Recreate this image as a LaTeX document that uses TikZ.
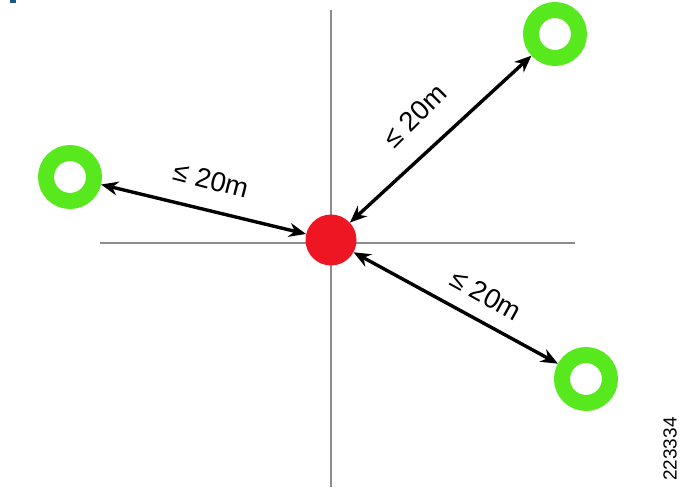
\documentclass[tikz,border=0pt]{standalone}
\usepackage{fontspec}
\setmainfont{Liberation Sans}
\usetikzlibrary{arrows.meta}
\definecolor{ringgreen}{RGB}{88,232,30}
\definecolor{dotred}{RGB}{238,22,34}
\definecolor{axisgray}{RGB}{140,140,140}
\definecolor{markblue}{RGB}{26,90,128}
\tikzset{
  axisline/.style={draw=axisgray, line width=1.8pt},
  ring/.style={circle, draw=ringgreen, line width=16pt, minimum size=48pt, inner sep=0pt},
  center/.style={circle, fill=dotred, minimum size=51pt, inner sep=0pt},
  dist/.style={line width=3.4pt, black, {Stealth[length=17pt,width=14pt]}-{Stealth[length=17pt,width=14pt]}},
  distlabel/.style={font=\fontsize{27.5}{27.5}\selectfont, inner sep=0pt},
  figid/.style={font=\fontsize{19}{19}\selectfont, inner sep=0pt, rotate=90}
}
\begin{document}
\begin{tikzpicture}[x=1pt,y=-1pt]
\useasboundingbox (0,0) rectangle (691,493);
\fill[markblue] (10,0) rectangle (16,3);
\coordinate (vt) at (331,10);
\coordinate (vb) at (331,487);
\coordinate (hl) at (100,243);
\coordinate (hr) at (575,243);
\draw[axisline] (vt) -- (vb);
\draw[axisline] (hl) -- (hr);
\node[center] (r) at (331,240) {};
\node[ring] (g1) at (70,177) {};
\node[ring] (g2) at (555,34) {};
\node[ring] (g3) at (586,379) {};
\draw[dist] (g1) -- (r);
\draw[dist] (r) -- (g2);
\draw[dist] (r) -- (g3);
\node[distlabel, rotate=-14.5] (l1) at (211,180) {≤ 20m};
\node[distlabel, rotate=45] (l2) at (415,116) {≤ 20m};
\node[distlabel, rotate=-29] (l3) at (486,295) {≤ 20m};
\node[figid] (id) at (670,449) {223334};
\end{tikzpicture}
\end{document}
